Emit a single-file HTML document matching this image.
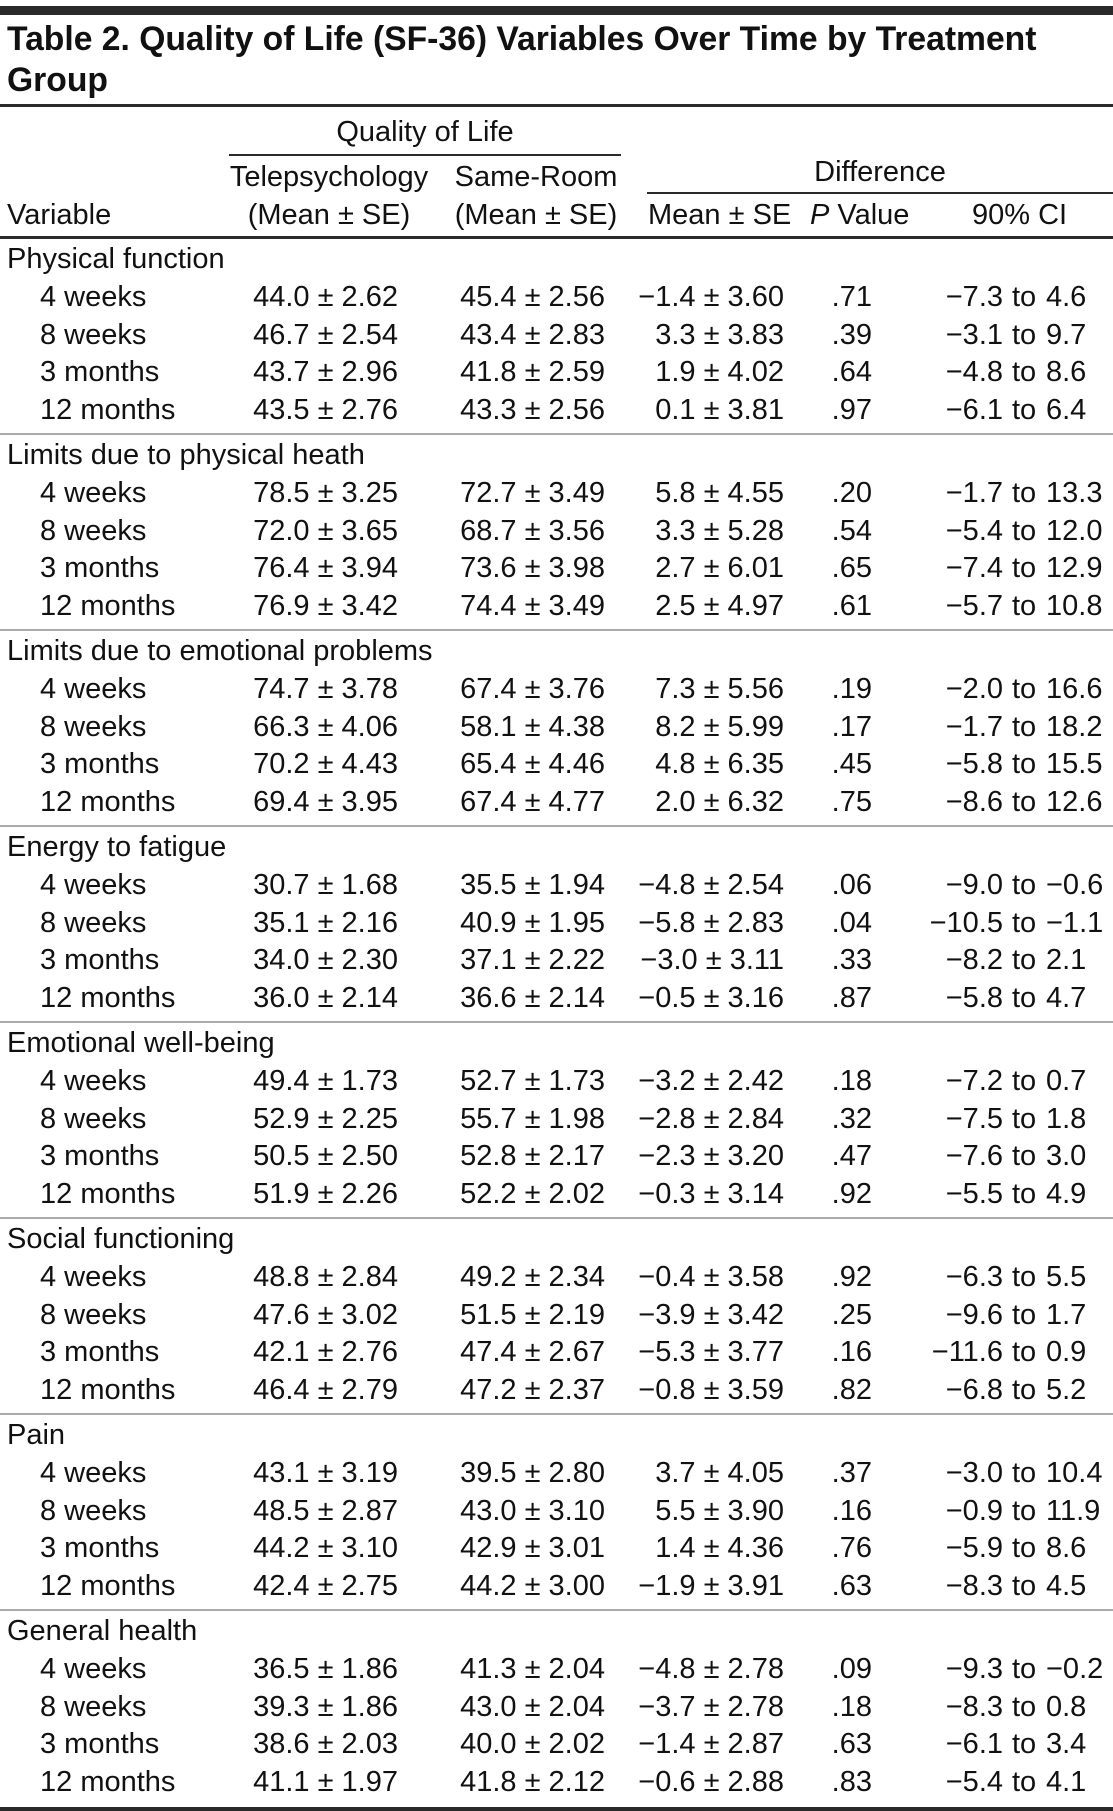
<!DOCTYPE html>
<html><head><meta charset="utf-8"><style>
body{margin:0;background:#fff;}
#w{position:relative;width:1113px;height:1811px;overflow:hidden;font-family:"Liberation Sans",sans-serif;color:#111;font-size:29px;}
.h{position:absolute;left:0;width:1113px;background:#2a2a2a;}
.s{position:absolute;left:0;width:1113px;height:2px;background:#aaa;}
.r{position:absolute;left:0;width:1113px;height:38px;line-height:38px;white-space:nowrap;}
.r span{position:absolute;top:0;}
.l{left:7px}.i{left:40px}.a{right:715px}.b{right:508px}.c{right:329px}.p{right:241px}.d{right:110px}.t{left:1012px}.e{left:1046px}
.x{position:absolute;white-space:nowrap;line-height:38px;}
.tt{position:absolute;left:7px;font-weight:bold;font-size:34px;white-space:nowrap;transform:scaleX(0.99);transform-origin:left;}
</style></head><body><div id="w">
<div class="h" style="top:6px;height:9px"></div>
<div class="tt" style="top:20px">Table 2. Quality of Life (SF-36) Variables Over Time by Treatment</div>
<div class="tt" style="top:61px">Group</div>
<div class="h" style="top:104px;height:3px"></div>
<div class="x" style="left:229px;width:392px;text-align:center;top:113px">Quality of Life</div>
<div class="h" style="top:154px;height:2px;left:229px;width:392px"></div>
<div class="x" style="left:224px;width:210px;text-align:center;top:158px">Telepsychology</div>
<div class="x" style="left:431px;width:210px;text-align:center;top:158px">Same-Room</div>
<div class="x" style="left:647px;width:466px;text-align:center;top:153px">Difference</div>
<div class="h" style="top:192px;height:2px;left:647px;width:466px"></div>
<div class="x" style="left:7px;top:196px">Variable</div>
<div class="x" style="left:224px;width:210px;text-align:center;top:196px">(Mean ± SE)</div>
<div class="x" style="left:431px;width:210px;text-align:center;top:196px">(Mean ± SE)</div>
<div class="x" style="left:648px;top:196px">Mean ± SE</div>
<div class="x" style="left:810px;top:196px"><i>P</i> Value</div>
<div class="x" style="left:972px;top:196px">90% CI</div>
<div class="h" style="top:236px;height:3px"></div>

<div class="r" style="top:240px"><span class="l">Physical function</span></div>
<div class="r" style="top:278px"><span class="i">4 weeks</span><span class="a">44.0 ± 2.62</span><span class="b">45.4 ± 2.56</span><span class="c">−1.4 ± 3.60</span><span class="p">.71</span><span class="d">−7.3</span><span class="t">to</span><span class="e">4.6</span></div>
<div class="r" style="top:316px"><span class="i">8 weeks</span><span class="a">46.7 ± 2.54</span><span class="b">43.4 ± 2.83</span><span class="c">3.3 ± 3.83</span><span class="p">.39</span><span class="d">−3.1</span><span class="t">to</span><span class="e">9.7</span></div>
<div class="r" style="top:353px"><span class="i">3 months</span><span class="a">43.7 ± 2.96</span><span class="b">41.8 ± 2.59</span><span class="c">1.9 ± 4.02</span><span class="p">.64</span><span class="d">−4.8</span><span class="t">to</span><span class="e">8.6</span></div>
<div class="r" style="top:391px"><span class="i">12 months</span><span class="a">43.5 ± 2.76</span><span class="b">43.3 ± 2.56</span><span class="c">0.1 ± 3.81</span><span class="p">.97</span><span class="d">−6.1</span><span class="t">to</span><span class="e">6.4</span></div>
<div class="s" style="top:433px"></div>

<div class="r" style="top:436px"><span class="l">Limits due to physical heath</span></div>
<div class="r" style="top:474px"><span class="i">4 weeks</span><span class="a">78.5 ± 3.25</span><span class="b">72.7 ± 3.49</span><span class="c">5.8 ± 4.55</span><span class="p">.20</span><span class="d">−1.7</span><span class="t">to</span><span class="e">13.3</span></div>
<div class="r" style="top:512px"><span class="i">8 weeks</span><span class="a">72.0 ± 3.65</span><span class="b">68.7 ± 3.56</span><span class="c">3.3 ± 5.28</span><span class="p">.54</span><span class="d">−5.4</span><span class="t">to</span><span class="e">12.0</span></div>
<div class="r" style="top:549px"><span class="i">3 months</span><span class="a">76.4 ± 3.94</span><span class="b">73.6 ± 3.98</span><span class="c">2.7 ± 6.01</span><span class="p">.65</span><span class="d">−7.4</span><span class="t">to</span><span class="e">12.9</span></div>
<div class="r" style="top:587px"><span class="i">12 months</span><span class="a">76.9 ± 3.42</span><span class="b">74.4 ± 3.49</span><span class="c">2.5 ± 4.97</span><span class="p">.61</span><span class="d">−5.7</span><span class="t">to</span><span class="e">10.8</span></div>
<div class="s" style="top:629px"></div>

<div class="r" style="top:632px"><span class="l">Limits due to emotional problems</span></div>
<div class="r" style="top:670px"><span class="i">4 weeks</span><span class="a">74.7 ± 3.78</span><span class="b">67.4 ± 3.76</span><span class="c">7.3 ± 5.56</span><span class="p">.19</span><span class="d">−2.0</span><span class="t">to</span><span class="e">16.6</span></div>
<div class="r" style="top:708px"><span class="i">8 weeks</span><span class="a">66.3 ± 4.06</span><span class="b">58.1 ± 4.38</span><span class="c">8.2 ± 5.99</span><span class="p">.17</span><span class="d">−1.7</span><span class="t">to</span><span class="e">18.2</span></div>
<div class="r" style="top:745px"><span class="i">3 months</span><span class="a">70.2 ± 4.43</span><span class="b">65.4 ± 4.46</span><span class="c">4.8 ± 6.35</span><span class="p">.45</span><span class="d">−5.8</span><span class="t">to</span><span class="e">15.5</span></div>
<div class="r" style="top:783px"><span class="i">12 months</span><span class="a">69.4 ± 3.95</span><span class="b">67.4 ± 4.77</span><span class="c">2.0 ± 6.32</span><span class="p">.75</span><span class="d">−8.6</span><span class="t">to</span><span class="e">12.6</span></div>
<div class="s" style="top:825px"></div>

<div class="r" style="top:828px"><span class="l">Energy to fatigue</span></div>
<div class="r" style="top:866px"><span class="i">4 weeks</span><span class="a">30.7 ± 1.68</span><span class="b">35.5 ± 1.94</span><span class="c">−4.8 ± 2.54</span><span class="p">.06</span><span class="d">−9.0</span><span class="t">to</span><span class="e">−0.6</span></div>
<div class="r" style="top:904px"><span class="i">8 weeks</span><span class="a">35.1 ± 2.16</span><span class="b">40.9 ± 1.95</span><span class="c">−5.8 ± 2.83</span><span class="p">.04</span><span class="d">−10.5</span><span class="t">to</span><span class="e">−1.1</span></div>
<div class="r" style="top:941px"><span class="i">3 months</span><span class="a">34.0 ± 2.30</span><span class="b">37.1 ± 2.22</span><span class="c">−3.0 ± 3.11</span><span class="p">.33</span><span class="d">−8.2</span><span class="t">to</span><span class="e">2.1</span></div>
<div class="r" style="top:979px"><span class="i">12 months</span><span class="a">36.0 ± 2.14</span><span class="b">36.6 ± 2.14</span><span class="c">−0.5 ± 3.16</span><span class="p">.87</span><span class="d">−5.8</span><span class="t">to</span><span class="e">4.7</span></div>
<div class="s" style="top:1021px"></div>

<div class="r" style="top:1024px"><span class="l">Emotional well-being</span></div>
<div class="r" style="top:1062px"><span class="i">4 weeks</span><span class="a">49.4 ± 1.73</span><span class="b">52.7 ± 1.73</span><span class="c">−3.2 ± 2.42</span><span class="p">.18</span><span class="d">−7.2</span><span class="t">to</span><span class="e">0.7</span></div>
<div class="r" style="top:1100px"><span class="i">8 weeks</span><span class="a">52.9 ± 2.25</span><span class="b">55.7 ± 1.98</span><span class="c">−2.8 ± 2.84</span><span class="p">.32</span><span class="d">−7.5</span><span class="t">to</span><span class="e">1.8</span></div>
<div class="r" style="top:1137px"><span class="i">3 months</span><span class="a">50.5 ± 2.50</span><span class="b">52.8 ± 2.17</span><span class="c">−2.3 ± 3.20</span><span class="p">.47</span><span class="d">−7.6</span><span class="t">to</span><span class="e">3.0</span></div>
<div class="r" style="top:1175px"><span class="i">12 months</span><span class="a">51.9 ± 2.26</span><span class="b">52.2 ± 2.02</span><span class="c">−0.3 ± 3.14</span><span class="p">.92</span><span class="d">−5.5</span><span class="t">to</span><span class="e">4.9</span></div>
<div class="s" style="top:1217px"></div>

<div class="r" style="top:1220px"><span class="l">Social functioning</span></div>
<div class="r" style="top:1258px"><span class="i">4 weeks</span><span class="a">48.8 ± 2.84</span><span class="b">49.2 ± 2.34</span><span class="c">−0.4 ± 3.58</span><span class="p">.92</span><span class="d">−6.3</span><span class="t">to</span><span class="e">5.5</span></div>
<div class="r" style="top:1296px"><span class="i">8 weeks</span><span class="a">47.6 ± 3.02</span><span class="b">51.5 ± 2.19</span><span class="c">−3.9 ± 3.42</span><span class="p">.25</span><span class="d">−9.6</span><span class="t">to</span><span class="e">1.7</span></div>
<div class="r" style="top:1333px"><span class="i">3 months</span><span class="a">42.1 ± 2.76</span><span class="b">47.4 ± 2.67</span><span class="c">−5.3 ± 3.77</span><span class="p">.16</span><span class="d">−11.6</span><span class="t">to</span><span class="e">0.9</span></div>
<div class="r" style="top:1371px"><span class="i">12 months</span><span class="a">46.4 ± 2.79</span><span class="b">47.2 ± 2.37</span><span class="c">−0.8 ± 3.59</span><span class="p">.82</span><span class="d">−6.8</span><span class="t">to</span><span class="e">5.2</span></div>
<div class="s" style="top:1413px"></div>

<div class="r" style="top:1416px"><span class="l">Pain</span></div>
<div class="r" style="top:1454px"><span class="i">4 weeks</span><span class="a">43.1 ± 3.19</span><span class="b">39.5 ± 2.80</span><span class="c">3.7 ± 4.05</span><span class="p">.37</span><span class="d">−3.0</span><span class="t">to</span><span class="e">10.4</span></div>
<div class="r" style="top:1492px"><span class="i">8 weeks</span><span class="a">48.5 ± 2.87</span><span class="b">43.0 ± 3.10</span><span class="c">5.5 ± 3.90</span><span class="p">.16</span><span class="d">−0.9</span><span class="t">to</span><span class="e">11.9</span></div>
<div class="r" style="top:1529px"><span class="i">3 months</span><span class="a">44.2 ± 3.10</span><span class="b">42.9 ± 3.01</span><span class="c">1.4 ± 4.36</span><span class="p">.76</span><span class="d">−5.9</span><span class="t">to</span><span class="e">8.6</span></div>
<div class="r" style="top:1567px"><span class="i">12 months</span><span class="a">42.4 ± 2.75</span><span class="b">44.2 ± 3.00</span><span class="c">−1.9 ± 3.91</span><span class="p">.63</span><span class="d">−8.3</span><span class="t">to</span><span class="e">4.5</span></div>
<div class="s" style="top:1609px"></div>

<div class="r" style="top:1612px"><span class="l">General health</span></div>
<div class="r" style="top:1650px"><span class="i">4 weeks</span><span class="a">36.5 ± 1.86</span><span class="b">41.3 ± 2.04</span><span class="c">−4.8 ± 2.78</span><span class="p">.09</span><span class="d">−9.3</span><span class="t">to</span><span class="e">−0.2</span></div>
<div class="r" style="top:1688px"><span class="i">8 weeks</span><span class="a">39.3 ± 1.86</span><span class="b">43.0 ± 2.04</span><span class="c">−3.7 ± 2.78</span><span class="p">.18</span><span class="d">−8.3</span><span class="t">to</span><span class="e">0.8</span></div>
<div class="r" style="top:1725px"><span class="i">3 months</span><span class="a">38.6 ± 2.03</span><span class="b">40.0 ± 2.02</span><span class="c">−1.4 ± 2.87</span><span class="p">.63</span><span class="d">−6.1</span><span class="t">to</span><span class="e">3.4</span></div>
<div class="r" style="top:1763px"><span class="i">12 months</span><span class="a">41.1 ± 1.97</span><span class="b">41.8 ± 2.12</span><span class="c">−0.6 ± 2.88</span><span class="p">.83</span><span class="d">−5.4</span><span class="t">to</span><span class="e">4.1</span></div>
<div class="h" style="top:1807px;height:4px"></div>
</div></body></html>
